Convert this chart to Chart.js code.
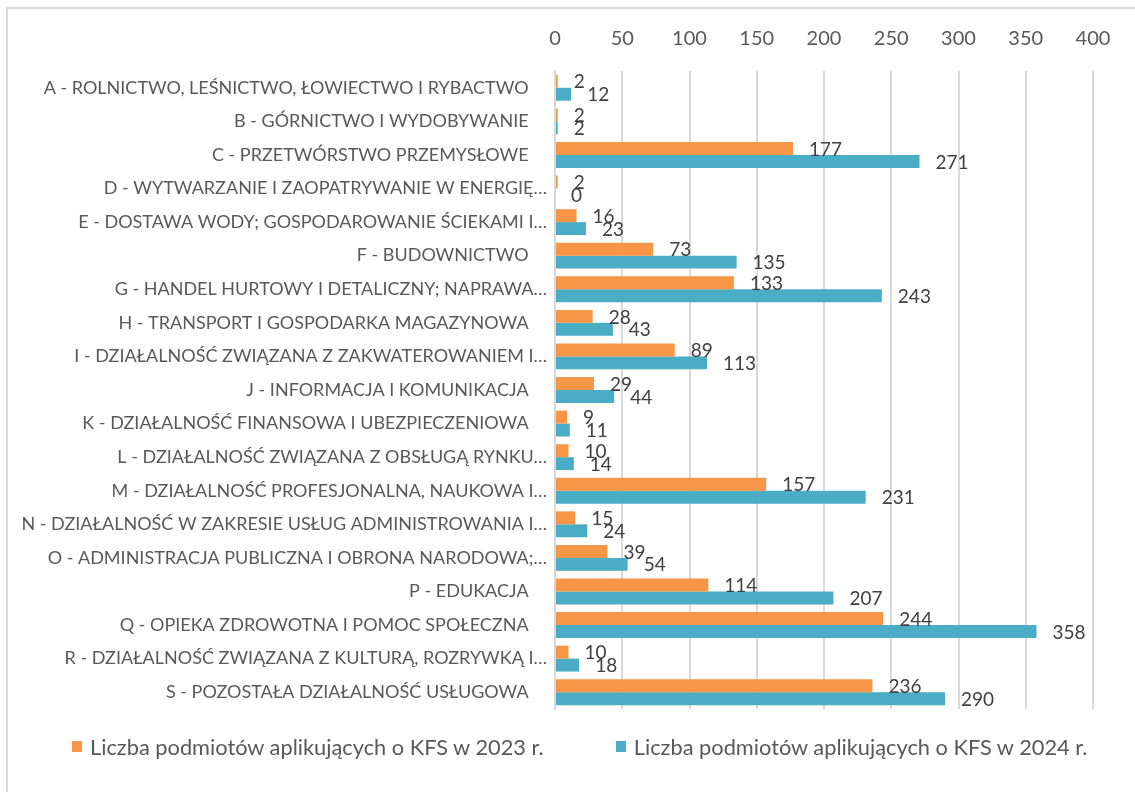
<!DOCTYPE html>
<html>
<head>
<meta charset="utf-8">
<script src="https://cdn.jsdelivr.net/npm/chart.js@4.4.1/dist/chart.umd.min.js"></script>
<style>
  body { margin: 0; background: #fff; overflow: hidden; }
  #wrap { position: relative; width: 1135px; height: 792px; }
  #frame { position: absolute; left: 6px; top: 7px; width: 1200px; height: 900px;
           border-left: 2px solid #d9d9d9; border-top: 2px solid #d9d9d9; }
  #legend { position: absolute; left: 72px; top: 733px; display: flex;
            font-family: Lato, sans-serif; font-size: 21.8px; color: #595959; }
  .item { display: flex; align-items: center; margin-right: 72px; white-space: nowrap; }
  .box { width: 10px; height: 11px; margin-right: 8px; }
</style>
</head>
<body>
<div id="wrap">
  <div id="frame"></div>
  <canvas id="kfsChart" width="1135" height="792"></canvas>
  <div id="legend"></div>
</div>
<script>
const categories = [
  'A - ROLNICTWO, LEŚNICTWO, ŁOWIECTWO I RYBACTWO    ',
  'B - GÓRNICTWO I WYDOBYWANIE    ',
  'C - PRZETWÓRSTWO PRZEMYSŁOWE    ',
  'D - WYTWARZANIE I ZAOPATRYWANIE W ENERGIĘ…',
  'E - DOSTAWA WODY; GOSPODAROWANIE ŚCIEKAMI I…',
  'F - BUDOWNICTWO    ',
  'G - HANDEL HURTOWY I DETALICZNY; NAPRAWA…',
  'H - TRANSPORT I GOSPODARKA MAGAZYNOWA    ',
  'I - DZIAŁALNOŚĆ ZWIĄZANA Z ZAKWATEROWANIEM I…',
  'J - INFORMACJA I KOMUNIKACJA    ',
  'K - DZIAŁALNOŚĆ FINANSOWA I UBEZPIECZENIOWA    ',
  'L - DZIAŁALNOŚĆ ZWIĄZANA Z OBSŁUGĄ RYNKU…',
  'M - DZIAŁALNOŚĆ PROFESJONALNA, NAUKOWA I…',
  'N - DZIAŁALNOŚĆ W ZAKRESIE USŁUG ADMINISTROWANIA I…',
  'O - ADMINISTRACJA PUBLICZNA I OBRONA NARODOWA;…',
  'P - EDUKACJA    ',
  'Q - OPIEKA ZDROWOTNA I POMOC SPOŁECZNA    ',
  'R - DZIAŁALNOŚĆ ZWIĄZANA Z KULTURĄ, ROZRYWKĄ I…',
  'S - POZOSTAŁA DZIAŁALNOŚĆ USŁUGOWA    '
];

const values2023 = [2, 2, 177, 2, 16, 73, 133, 28, 89, 29, 9, 10, 157, 15, 39, 114, 244, 10, 236];
const values2024 = [12, 2, 271, 0, 23, 135, 243, 43, 113, 44, 11, 14, 231, 24, 54, 207, 358, 18, 290];

const seriesNames = [
  'Liczba podmiotów aplikujących o KFS w 2023 r.',
  'Liczba podmiotów aplikujących o KFS w 2024 r.'
];
const seriesColors = ['#F79646', '#4BACC6'];

// etykiety wartosci przy koncach slupkow
const valueLabels = {
  id: 'valueLabels',
  afterDatasetsDraw(chart) {
    const ctx = chart.ctx;
    ctx.save();
    ctx.font = '19px Lato';
    ctx.fillStyle = '#404040';
    ctx.textAlign = 'left';
    ctx.textBaseline = 'middle';
    chart.data.datasets.forEach((ds, i) => {
      chart.getDatasetMeta(i).data.forEach((bar, j) => {
        ctx.fillText(ds.data[j], bar.x + 16, bar.y + 1);
      });
    });
    ctx.restore();
  }
};

const ctx = document.getElementById('kfsChart').getContext('2d');

const kfsChart = new Chart(ctx, {
  type: 'bar',
  data: {
    labels: categories,
    datasets: [
      { label: seriesNames[0], data: values2023, backgroundColor: seriesColors[0] },
      { label: seriesNames[1], data: values2024, backgroundColor: seriesColors[1] }
    ]
  },
  options: {
    indexAxis: 'y',
    responsive: false,
    animation: false,
    layout: { padding: { left: 0, right: 42, top: 0, bottom: 83 } },
    datasets: { bar: { barPercentage: 1, categoryPercentage: 0.77 } },
    plugins: {
      legend: { display: false },
      tooltip: { enabled: false }
    },
    scales: {
      x: {
        position: 'top',
        min: 0,
        max: 400,
        ticks: { stepSize: 50, color: '#595959', font: { family: 'Lato', size: 20 }, padding: 20 },
        grid: { color: '#d9d9d9', lineWidth: 2, drawTicks: false },
        border: { display: false },
        afterFit(scale) { scale.height = 71; }
      },
      y: {
        ticks: { color: '#595959', font: { family: 'Lato', size: 18 }, padding: 0, autoSkip: false },
        grid: { display: false },
        border: { color: '#d9d9d9', width: 2 },
        afterFit(scale) { scale.width = 555; }
      }
    }
  },
  plugins: [valueLabels]
});

const legendEl = document.getElementById('legend');
kfsChart.data.datasets.forEach(ds => {
  const item = document.createElement('div');
  item.className = 'item';
  const box = document.createElement('span');
  box.className = 'box';
  box.style.background = ds.backgroundColor;
  const txt = document.createElement('span');
  txt.textContent = ds.label;
  item.appendChild(box);
  item.appendChild(txt);
  legendEl.appendChild(item);
});
</script>
</body>
</html>
